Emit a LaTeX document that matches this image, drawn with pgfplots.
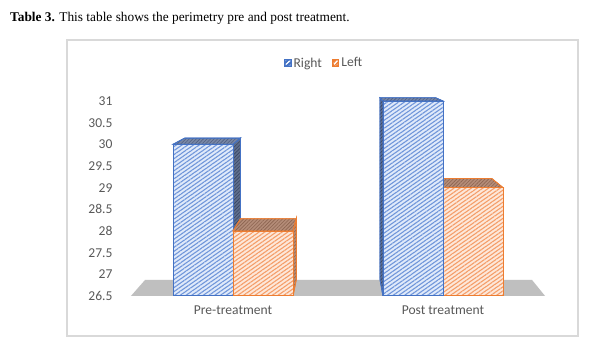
\documentclass[border=0pt]{standalone}
\usepackage{pgfplots}
\pgfplotsset{compat=1.18}
\usetikzlibrary{patterns.meta}
\usepackage{fontspec}
\setmainfont{Carlito}
\newfontfamily\capfont{Liberation Serif}
\definecolor{cblue}{RGB}{68,114,196}
\definecolor{corange}{RGB}{237,125,49}
\definecolor{ctext}{RGB}{89,89,89}
\definecolor{cframe}{RGB}{217,217,217}
\definecolor{cfloor}{RGB}{191,191,191}
\definecolor{bfbg}{RGB}{224,234,250}
\definecolor{bfln}{RGB}{112,150,218}
\definecolor{ofbg}{RGB}{253,232,218}
\definecolor{ofln}{RGB}{245,158,105}
\definecolor{bside}{RGB}{95,110,140}
\definecolor{bsidel}{RGB}{55,70,100}
\definecolor{btop}{RGB}{120,135,165}
\definecolor{btopl}{RGB}{80,95,130}
\definecolor{otop}{RGB}{180,140,120}
\definecolor{otopl}{RGB}{140,100,80}
\tikzset{
  frontblue/.style={draw=cblue, line width=1bp, fill=bfbg,
    postaction={pattern={Lines[angle=35,distance=3.3bp,line width=1.1bp]}, pattern color=bfln}},
  frontorange/.style={draw=corange, line width=1bp, fill=ofbg,
    postaction={pattern={Lines[angle=35,distance=3.3bp,line width=1.1bp]}, pattern color=ofln}},
  sideblue/.style={draw=cblue, line width=0.8bp, fill=bside,
    postaction={pattern={Lines[angle=45,distance=2.5bp,line width=0.6bp]}, pattern color=bsidel}},
  topblue/.style={draw=cblue, line width=0.8bp, fill=btop,
    postaction={pattern={Lines[angle=45,distance=2.5bp,line width=0.6bp]}, pattern color=btopl}},
  toporange/.style={draw=corange, line width=0.8bp, fill=otop,
    postaction={pattern={Lines[angle=45,distance=2.5bp,line width=0.6bp]}, pattern color=otopl}},
  sideorange/.style={draw=corange, line width=0.8bp, fill=otop,
    postaction={pattern={Lines[angle=45,distance=2.5bp,line width=0.6bp]}, pattern color=otopl}},
}
\begin{document}
\begin{tikzpicture}
\useasboundingbox (0bp,0bp) rectangle (600bp,353bp);
\fill[white] (0bp,0bp) rectangle (600bp,353bp);
\draw[cframe, line width=1.2bp] (67bp,17bp) rectangle (578bp,313bp);
\node[anchor=base west, inner sep=0pt, font=\capfont\fontsize{13.4}{16}\selectfont] at (10bp,331bp)
  {\textbf{Table 3.} This table shows the perimetry pre and post treatment.};
\begin{axis}[
  at={(128bp,57bp)}, anchor=south west,
  x=210bp, y=43.33bp,
  xmin=-0.5, xmax=1.5, ymin=26.5, ymax=31.5,
  axis line style={draw=none},
  major tick length=0pt,
  tick style={draw=none},
  xtick={0,1},
  xticklabels={Pre-treatment, Post treatment},
  ytick={26.5,27,27.5,28,28.5,29,29.5,30,30.5,31},
  /pgf/number format/assume math mode=true,
  ticklabel style={font=\fontsize{13.6}{16}\selectfont, text=ctext},
  xticklabel style={yshift=-6bp},
  yticklabel style={xshift=-12bp},
  legend style={at={(0.467,1.075)}, anchor=center, draw=none, fill=none,
    legend columns=2, font=\fontsize{13.6}{16}\selectfont, text=ctext,
    /tikz/every even column/.append style={column sep=8bp}},
]
% floor
\addplot[forget plot, mark=none, fill=cfloor, draw=none]
  coordinates {(-0.486,26.5) (1.486,26.5) (1.424,26.87) (-0.419,26.87)} -- cycle;
% Pre-treatment Right
\addplot[forget plot, mark=none, sideblue]
  coordinates {(0,26.5) (0,30) (0.0357,30.144) (0.0357,26.889)} -- cycle;
\addplot[forget plot, mark=none, topblue]
  coordinates {(-0.286,30) (0,30) (0.0357,30.144) (-0.230,30.144)} -- cycle;
\addplot[frontblue, ybar, bar width=60bp, bar shift=-30bp,
  legend image code/.code={\fill[cblue] (0bp,-3bp) rectangle (6.5bp,3.5bp);
    \draw[white, line width=0.9bp] (1.6bp,-1.2bp) -- (4.9bp,2.2bp);}] coordinates {(0,30)};
% Pre-treatment Left
\addplot[forget plot, mark=none, toporange]
  coordinates {(0,28) (0.286,28) (0.3017,28.284) (0.0357,28.284)} -- cycle;
\addplot[forget plot, mark=none, sideorange]
  coordinates {(0.286,26.5) (0.286,28) (0.3017,28.284) (0.3017,26.889)} -- cycle;
\addplot[frontorange, ybar, bar width=60bp, bar shift=30bp,
  legend image code/.code={\fill[corange] (0bp,-3bp) rectangle (6.5bp,3.5bp);
    \draw[white, line width=0.9bp] (1.6bp,-1.2bp) -- (4.9bp,2.2bp);}] coordinates {(0,28)};
% Post treatment Left
\addplot[forget plot, mark=none, toporange]
  coordinates {(1,29) (1.286,29) (1.2317,29.214) (0.9657,29.214)} -- cycle;
\addplot[forget plot, frontorange, ybar, bar width=60bp, bar shift=30bp] coordinates {(1,29)};
% Post treatment Right
\addplot[forget plot, mark=none, sideblue]
  coordinates {(0.714,26.5) (0.714,31) (0.6997,31.074) (0.6997,26.889)} -- cycle;
\addplot[forget plot, mark=none, topblue]
  coordinates {(0.714,31) (1,31) (0.9657,31.074) (0.6997,31.074)} -- cycle;
\addplot[forget plot, frontblue, ybar, bar width=60bp, bar shift=-30bp] coordinates {(1,31)};
\legend{Right,Left}
\end{axis}
\end{tikzpicture}
\end{document}
